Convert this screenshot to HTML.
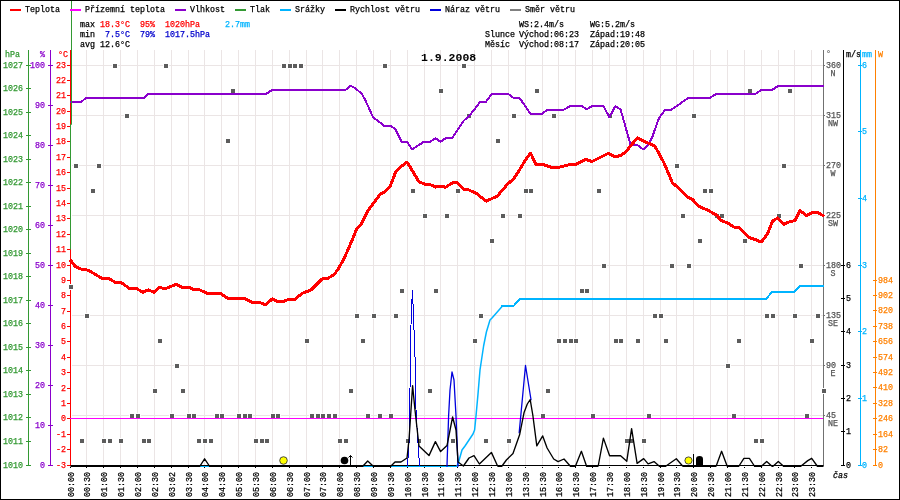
<!DOCTYPE html>
<html><head><meta charset="utf-8"><style>
html,body{margin:0;padding:0;background:#fff;width:900px;height:500px;overflow:hidden}
svg{display:block;will-change:transform}
text{font-family:"Liberation Mono",monospace;white-space:pre}
</style></head><body>
<svg width="900" height="500" viewBox="0 0 900 500">
<rect x="0" y="0" width="900" height="500" fill="#fff"/>
<rect x="86" y="50" width="1" height="415" fill="#ebe5e5"/>
<rect x="103" y="50" width="1" height="415" fill="#ebe5e5"/>
<rect x="120" y="50" width="1" height="415" fill="#ebe5e5"/>
<rect x="137" y="50" width="1" height="415" fill="#ebe5e5"/>
<rect x="154" y="50" width="1" height="415" fill="#ebe5e5"/>
<rect x="171" y="50" width="1" height="415" fill="#ebe5e5"/>
<rect x="188" y="50" width="1" height="415" fill="#ebe5e5"/>
<rect x="204" y="50" width="1" height="415" fill="#ebe5e5"/>
<rect x="221" y="50" width="1" height="415" fill="#ebe5e5"/>
<rect x="238" y="50" width="1" height="415" fill="#ebe5e5"/>
<rect x="255" y="50" width="1" height="415" fill="#ebe5e5"/>
<rect x="272" y="50" width="1" height="415" fill="#ebe5e5"/>
<rect x="289" y="50" width="1" height="415" fill="#ebe5e5"/>
<rect x="306" y="50" width="1" height="415" fill="#ebe5e5"/>
<rect x="322" y="50" width="1" height="415" fill="#ebe5e5"/>
<rect x="339" y="50" width="1" height="415" fill="#ebe5e5"/>
<rect x="356" y="50" width="1" height="415" fill="#ebe5e5"/>
<rect x="373" y="50" width="1" height="415" fill="#ebe5e5"/>
<rect x="390" y="50" width="1" height="415" fill="#ebe5e5"/>
<rect x="407" y="50" width="1" height="415" fill="#ebe5e5"/>
<rect x="424" y="50" width="1" height="415" fill="#ebe5e5"/>
<rect x="440" y="50" width="1" height="415" fill="#ebe5e5"/>
<rect x="457" y="50" width="1" height="415" fill="#ebe5e5"/>
<rect x="474" y="50" width="1" height="415" fill="#ebe5e5"/>
<rect x="491" y="50" width="1" height="415" fill="#ebe5e5"/>
<rect x="508" y="50" width="1" height="415" fill="#ebe5e5"/>
<rect x="525" y="50" width="1" height="415" fill="#ebe5e5"/>
<rect x="542" y="50" width="1" height="415" fill="#ebe5e5"/>
<rect x="558" y="50" width="1" height="415" fill="#ebe5e5"/>
<rect x="575" y="50" width="1" height="415" fill="#ebe5e5"/>
<rect x="592" y="50" width="1" height="415" fill="#ebe5e5"/>
<rect x="609" y="50" width="1" height="415" fill="#ebe5e5"/>
<rect x="626" y="50" width="1" height="415" fill="#ebe5e5"/>
<rect x="643" y="50" width="1" height="415" fill="#ebe5e5"/>
<rect x="660" y="50" width="1" height="415" fill="#ebe5e5"/>
<rect x="676" y="50" width="1" height="415" fill="#ebe5e5"/>
<rect x="693" y="50" width="1" height="415" fill="#ebe5e5"/>
<rect x="710" y="50" width="1" height="415" fill="#ebe5e5"/>
<rect x="727" y="50" width="1" height="415" fill="#ebe5e5"/>
<rect x="744" y="50" width="1" height="415" fill="#ebe5e5"/>
<rect x="761" y="50" width="1" height="415" fill="#ebe5e5"/>
<rect x="778" y="50" width="1" height="415" fill="#ebe5e5"/>
<rect x="794" y="50" width="1" height="415" fill="#ebe5e5"/>
<rect x="811" y="50" width="1" height="415" fill="#ebe5e5"/>
<rect x="72" y="65" width="751" height="1" fill="#ebe5e5"/>
<rect x="72" y="115" width="751" height="1" fill="#ebe5e5"/>
<rect x="72" y="165" width="751" height="1" fill="#ebe5e5"/>
<rect x="72" y="215" width="751" height="1" fill="#ebe5e5"/>
<rect x="72" y="265" width="751" height="1" fill="#ebe5e5"/>
<rect x="72" y="315" width="751" height="1" fill="#ebe5e5"/>
<rect x="72" y="365" width="751" height="1" fill="#ebe5e5"/>
<rect x="72" y="415" width="751" height="1" fill="#ebe5e5"/>
<rect x="70" y="467" width="1" height="1" fill="#000"/>
<rect x="86" y="467" width="1" height="1" fill="#000"/>
<rect x="103" y="467" width="1" height="1" fill="#000"/>
<rect x="120" y="467" width="1" height="1" fill="#000"/>
<rect x="137" y="467" width="1" height="1" fill="#000"/>
<rect x="154" y="467" width="1" height="1" fill="#000"/>
<rect x="171" y="467" width="1" height="1" fill="#000"/>
<rect x="188" y="467" width="1" height="1" fill="#000"/>
<rect x="204" y="467" width="1" height="1" fill="#000"/>
<rect x="221" y="467" width="1" height="1" fill="#000"/>
<rect x="238" y="467" width="1" height="1" fill="#000"/>
<rect x="255" y="467" width="1" height="1" fill="#000"/>
<rect x="272" y="467" width="1" height="1" fill="#000"/>
<rect x="289" y="467" width="1" height="1" fill="#000"/>
<rect x="306" y="467" width="1" height="1" fill="#000"/>
<rect x="322" y="467" width="1" height="1" fill="#000"/>
<rect x="339" y="467" width="1" height="1" fill="#000"/>
<rect x="356" y="467" width="1" height="1" fill="#000"/>
<rect x="373" y="467" width="1" height="1" fill="#000"/>
<rect x="390" y="467" width="1" height="1" fill="#000"/>
<rect x="407" y="467" width="1" height="1" fill="#000"/>
<rect x="424" y="467" width="1" height="1" fill="#000"/>
<rect x="440" y="467" width="1" height="1" fill="#000"/>
<rect x="457" y="467" width="1" height="1" fill="#000"/>
<rect x="474" y="467" width="1" height="1" fill="#000"/>
<rect x="491" y="467" width="1" height="1" fill="#000"/>
<rect x="508" y="467" width="1" height="1" fill="#000"/>
<rect x="525" y="467" width="1" height="1" fill="#000"/>
<rect x="542" y="467" width="1" height="1" fill="#000"/>
<rect x="558" y="467" width="1" height="1" fill="#000"/>
<rect x="575" y="467" width="1" height="1" fill="#000"/>
<rect x="592" y="467" width="1" height="1" fill="#000"/>
<rect x="609" y="467" width="1" height="1" fill="#000"/>
<rect x="626" y="467" width="1" height="1" fill="#000"/>
<rect x="643" y="467" width="1" height="1" fill="#000"/>
<rect x="660" y="467" width="1" height="1" fill="#000"/>
<rect x="676" y="467" width="1" height="1" fill="#000"/>
<rect x="693" y="467" width="1" height="1" fill="#000"/>
<rect x="710" y="467" width="1" height="1" fill="#000"/>
<rect x="727" y="467" width="1" height="1" fill="#000"/>
<rect x="744" y="467" width="1" height="1" fill="#000"/>
<rect x="761" y="467" width="1" height="1" fill="#000"/>
<rect x="778" y="467" width="1" height="1" fill="#000"/>
<rect x="794" y="467" width="1" height="1" fill="#000"/>
<rect x="811" y="467" width="1" height="1" fill="#000"/>
<rect x="28" y="50" width="1" height="416" fill="#339933"/>
<text x="5" y="57" font-size="8.33" font-weight="normal" fill="#339933" stroke="#339933" stroke-width="0.25" text-anchor="start" >hPa</text>
<rect x="26" y="465" width="5" height="1" fill="#339933"/>
<text x="3" y="468" font-size="8.33" font-weight="normal" fill="#339933" stroke="#339933" stroke-width="0.25" text-anchor="start" >1010</text>
<rect x="26" y="441" width="5" height="1" fill="#339933"/>
<text x="3" y="444" font-size="8.33" font-weight="normal" fill="#339933" stroke="#339933" stroke-width="0.25" text-anchor="start" >1011</text>
<rect x="26" y="417" width="5" height="1" fill="#339933"/>
<text x="3" y="420" font-size="8.33" font-weight="normal" fill="#339933" stroke="#339933" stroke-width="0.25" text-anchor="start" >1012</text>
<rect x="26" y="394" width="5" height="1" fill="#339933"/>
<text x="3" y="397" font-size="8.33" font-weight="normal" fill="#339933" stroke="#339933" stroke-width="0.25" text-anchor="start" >1013</text>
<rect x="26" y="370" width="5" height="1" fill="#339933"/>
<text x="3" y="373" font-size="8.33" font-weight="normal" fill="#339933" stroke="#339933" stroke-width="0.25" text-anchor="start" >1014</text>
<rect x="26" y="347" width="5" height="1" fill="#339933"/>
<text x="3" y="350" font-size="8.33" font-weight="normal" fill="#339933" stroke="#339933" stroke-width="0.25" text-anchor="start" >1015</text>
<rect x="26" y="323" width="5" height="1" fill="#339933"/>
<text x="3" y="326" font-size="8.33" font-weight="normal" fill="#339933" stroke="#339933" stroke-width="0.25" text-anchor="start" >1016</text>
<rect x="26" y="300" width="5" height="1" fill="#339933"/>
<text x="3" y="303" font-size="8.33" font-weight="normal" fill="#339933" stroke="#339933" stroke-width="0.25" text-anchor="start" >1017</text>
<rect x="26" y="276" width="5" height="1" fill="#339933"/>
<text x="3" y="279" font-size="8.33" font-weight="normal" fill="#339933" stroke="#339933" stroke-width="0.25" text-anchor="start" >1018</text>
<rect x="26" y="253" width="5" height="1" fill="#339933"/>
<text x="3" y="256" font-size="8.33" font-weight="normal" fill="#339933" stroke="#339933" stroke-width="0.25" text-anchor="start" >1019</text>
<rect x="26" y="229" width="5" height="1" fill="#339933"/>
<text x="3" y="232" font-size="8.33" font-weight="normal" fill="#339933" stroke="#339933" stroke-width="0.25" text-anchor="start" >1020</text>
<rect x="26" y="206" width="5" height="1" fill="#339933"/>
<text x="3" y="209" font-size="8.33" font-weight="normal" fill="#339933" stroke="#339933" stroke-width="0.25" text-anchor="start" >1021</text>
<rect x="26" y="182" width="5" height="1" fill="#339933"/>
<text x="3" y="185" font-size="8.33" font-weight="normal" fill="#339933" stroke="#339933" stroke-width="0.25" text-anchor="start" >1022</text>
<rect x="26" y="159" width="5" height="1" fill="#339933"/>
<text x="3" y="162" font-size="8.33" font-weight="normal" fill="#339933" stroke="#339933" stroke-width="0.25" text-anchor="start" >1023</text>
<rect x="26" y="135" width="5" height="1" fill="#339933"/>
<text x="3" y="138" font-size="8.33" font-weight="normal" fill="#339933" stroke="#339933" stroke-width="0.25" text-anchor="start" >1024</text>
<rect x="26" y="112" width="5" height="1" fill="#339933"/>
<text x="3" y="115" font-size="8.33" font-weight="normal" fill="#339933" stroke="#339933" stroke-width="0.25" text-anchor="start" >1025</text>
<rect x="26" y="88" width="5" height="1" fill="#339933"/>
<text x="3" y="91" font-size="8.33" font-weight="normal" fill="#339933" stroke="#339933" stroke-width="0.25" text-anchor="start" >1026</text>
<rect x="26" y="65" width="5" height="1" fill="#339933"/>
<text x="3" y="68" font-size="8.33" font-weight="normal" fill="#339933" stroke="#339933" stroke-width="0.25" text-anchor="start" >1027</text>
<rect x="50" y="50" width="1" height="416" fill="#8a00cc"/>
<text x="40" y="57" font-size="8.33" font-weight="normal" fill="#8a00cc" stroke="#8a00cc" stroke-width="0.25" text-anchor="start" >%</text>
<rect x="48" y="465" width="5" height="1" fill="#8a00cc"/>
<text x="45" y="468" font-size="8.33" font-weight="normal" fill="#8a00cc" stroke="#8a00cc" stroke-width="0.25" text-anchor="end" >0</text>
<rect x="48" y="425" width="5" height="1" fill="#8a00cc"/>
<text x="45" y="428" font-size="8.33" font-weight="normal" fill="#8a00cc" stroke="#8a00cc" stroke-width="0.25" text-anchor="end" >10</text>
<rect x="48" y="385" width="5" height="1" fill="#8a00cc"/>
<text x="45" y="388" font-size="8.33" font-weight="normal" fill="#8a00cc" stroke="#8a00cc" stroke-width="0.25" text-anchor="end" >20</text>
<rect x="48" y="345" width="5" height="1" fill="#8a00cc"/>
<text x="45" y="348" font-size="8.33" font-weight="normal" fill="#8a00cc" stroke="#8a00cc" stroke-width="0.25" text-anchor="end" >30</text>
<rect x="48" y="305" width="5" height="1" fill="#8a00cc"/>
<text x="45" y="308" font-size="8.33" font-weight="normal" fill="#8a00cc" stroke="#8a00cc" stroke-width="0.25" text-anchor="end" >40</text>
<rect x="48" y="265" width="5" height="1" fill="#8a00cc"/>
<text x="45" y="268" font-size="8.33" font-weight="normal" fill="#8a00cc" stroke="#8a00cc" stroke-width="0.25" text-anchor="end" >50</text>
<rect x="48" y="225" width="5" height="1" fill="#8a00cc"/>
<text x="45" y="228" font-size="8.33" font-weight="normal" fill="#8a00cc" stroke="#8a00cc" stroke-width="0.25" text-anchor="end" >60</text>
<rect x="48" y="185" width="5" height="1" fill="#8a00cc"/>
<text x="45" y="188" font-size="8.33" font-weight="normal" fill="#8a00cc" stroke="#8a00cc" stroke-width="0.25" text-anchor="end" >70</text>
<rect x="48" y="145" width="5" height="1" fill="#8a00cc"/>
<text x="45" y="148" font-size="8.33" font-weight="normal" fill="#8a00cc" stroke="#8a00cc" stroke-width="0.25" text-anchor="end" >80</text>
<rect x="48" y="105" width="5" height="1" fill="#8a00cc"/>
<text x="45" y="108" font-size="8.33" font-weight="normal" fill="#8a00cc" stroke="#8a00cc" stroke-width="0.25" text-anchor="end" >90</text>
<rect x="48" y="65" width="5" height="1" fill="#8a00cc"/>
<text x="45" y="68" font-size="8.33" font-weight="normal" fill="#8a00cc" stroke="#8a00cc" stroke-width="0.25" text-anchor="end" >100</text>
<rect x="70" y="50" width="1" height="416" fill="#ff0000"/>
<text x="58" y="57" font-size="8.33" font-weight="normal" fill="#ff0000" stroke="#ff0000" stroke-width="0.25" text-anchor="start" >°C</text>
<rect x="67" y="465" width="4" height="1" fill="#ff0000"/>
<text x="66" y="468" font-size="8.33" font-weight="normal" fill="#ff0000" stroke="#ff0000" stroke-width="0.25" text-anchor="end" >-3</text>
<rect x="67" y="449" width="4" height="1" fill="#ff0000"/>
<text x="66" y="452" font-size="8.33" font-weight="normal" fill="#ff0000" stroke="#ff0000" stroke-width="0.25" text-anchor="end" >-2</text>
<rect x="67" y="434" width="4" height="1" fill="#ff0000"/>
<text x="66" y="437" font-size="8.33" font-weight="normal" fill="#ff0000" stroke="#ff0000" stroke-width="0.25" text-anchor="end" >-1</text>
<rect x="67" y="418" width="4" height="1" fill="#ff0000"/>
<text x="66" y="421" font-size="8.33" font-weight="normal" fill="#ff0000" stroke="#ff0000" stroke-width="0.25" text-anchor="end" >0</text>
<rect x="67" y="403" width="4" height="1" fill="#ff0000"/>
<text x="66" y="406" font-size="8.33" font-weight="normal" fill="#ff0000" stroke="#ff0000" stroke-width="0.25" text-anchor="end" >1</text>
<rect x="67" y="388" width="4" height="1" fill="#ff0000"/>
<text x="66" y="391" font-size="8.33" font-weight="normal" fill="#ff0000" stroke="#ff0000" stroke-width="0.25" text-anchor="end" >2</text>
<rect x="67" y="372" width="4" height="1" fill="#ff0000"/>
<text x="66" y="375" font-size="8.33" font-weight="normal" fill="#ff0000" stroke="#ff0000" stroke-width="0.25" text-anchor="end" >3</text>
<rect x="67" y="357" width="4" height="1" fill="#ff0000"/>
<text x="66" y="360" font-size="8.33" font-weight="normal" fill="#ff0000" stroke="#ff0000" stroke-width="0.25" text-anchor="end" >4</text>
<rect x="67" y="341" width="4" height="1" fill="#ff0000"/>
<text x="66" y="344" font-size="8.33" font-weight="normal" fill="#ff0000" stroke="#ff0000" stroke-width="0.25" text-anchor="end" >5</text>
<rect x="67" y="326" width="4" height="1" fill="#ff0000"/>
<text x="66" y="329" font-size="8.33" font-weight="normal" fill="#ff0000" stroke="#ff0000" stroke-width="0.25" text-anchor="end" >6</text>
<rect x="67" y="311" width="4" height="1" fill="#ff0000"/>
<text x="66" y="314" font-size="8.33" font-weight="normal" fill="#ff0000" stroke="#ff0000" stroke-width="0.25" text-anchor="end" >7</text>
<rect x="67" y="295" width="4" height="1" fill="#ff0000"/>
<text x="66" y="298" font-size="8.33" font-weight="normal" fill="#ff0000" stroke="#ff0000" stroke-width="0.25" text-anchor="end" >8</text>
<rect x="67" y="280" width="4" height="1" fill="#ff0000"/>
<text x="66" y="283" font-size="8.33" font-weight="normal" fill="#ff0000" stroke="#ff0000" stroke-width="0.25" text-anchor="end" >9</text>
<rect x="67" y="265" width="4" height="1" fill="#ff0000"/>
<text x="66" y="268" font-size="8.33" font-weight="normal" fill="#ff0000" stroke="#ff0000" stroke-width="0.25" text-anchor="end" >10</text>
<rect x="67" y="249" width="4" height="1" fill="#ff0000"/>
<text x="66" y="252" font-size="8.33" font-weight="normal" fill="#ff0000" stroke="#ff0000" stroke-width="0.25" text-anchor="end" >11</text>
<rect x="67" y="234" width="4" height="1" fill="#ff0000"/>
<text x="66" y="237" font-size="8.33" font-weight="normal" fill="#ff0000" stroke="#ff0000" stroke-width="0.25" text-anchor="end" >12</text>
<rect x="67" y="218" width="4" height="1" fill="#ff0000"/>
<text x="66" y="221" font-size="8.33" font-weight="normal" fill="#ff0000" stroke="#ff0000" stroke-width="0.25" text-anchor="end" >13</text>
<rect x="67" y="203" width="4" height="1" fill="#ff0000"/>
<text x="66" y="206" font-size="8.33" font-weight="normal" fill="#ff0000" stroke="#ff0000" stroke-width="0.25" text-anchor="end" >14</text>
<rect x="67" y="188" width="4" height="1" fill="#ff0000"/>
<text x="66" y="191" font-size="8.33" font-weight="normal" fill="#ff0000" stroke="#ff0000" stroke-width="0.25" text-anchor="end" >15</text>
<rect x="67" y="172" width="4" height="1" fill="#ff0000"/>
<text x="66" y="175" font-size="8.33" font-weight="normal" fill="#ff0000" stroke="#ff0000" stroke-width="0.25" text-anchor="end" >16</text>
<rect x="67" y="157" width="4" height="1" fill="#ff0000"/>
<text x="66" y="160" font-size="8.33" font-weight="normal" fill="#ff0000" stroke="#ff0000" stroke-width="0.25" text-anchor="end" >17</text>
<rect x="67" y="141" width="4" height="1" fill="#ff0000"/>
<text x="66" y="144" font-size="8.33" font-weight="normal" fill="#ff0000" stroke="#ff0000" stroke-width="0.25" text-anchor="end" >18</text>
<rect x="67" y="126" width="4" height="1" fill="#ff0000"/>
<text x="66" y="129" font-size="8.33" font-weight="normal" fill="#ff0000" stroke="#ff0000" stroke-width="0.25" text-anchor="end" >19</text>
<rect x="67" y="111" width="4" height="1" fill="#ff0000"/>
<text x="66" y="114" font-size="8.33" font-weight="normal" fill="#ff0000" stroke="#ff0000" stroke-width="0.25" text-anchor="end" >20</text>
<rect x="67" y="95" width="4" height="1" fill="#ff0000"/>
<text x="66" y="98" font-size="8.33" font-weight="normal" fill="#ff0000" stroke="#ff0000" stroke-width="0.25" text-anchor="end" >21</text>
<rect x="67" y="80" width="4" height="1" fill="#ff0000"/>
<text x="66" y="83" font-size="8.33" font-weight="normal" fill="#ff0000" stroke="#ff0000" stroke-width="0.25" text-anchor="end" >22</text>
<rect x="67" y="65" width="4" height="1" fill="#ff0000"/>
<text x="66" y="68" font-size="8.33" font-weight="normal" fill="#ff0000" stroke="#ff0000" stroke-width="0.25" text-anchor="end" >23</text>
<rect x="823" y="50" width="1" height="416" fill="#707070"/>
<text x="826" y="56" font-size="8.33" font-weight="normal" fill="#707070" stroke="#707070" stroke-width="0.25" text-anchor="start" >°</text>
<rect x="823" y="65" width="2" height="1" fill="#707070"/>
<text x="826" y="68" font-size="8.33" font-weight="normal" fill="#555" stroke="#555" stroke-width="0.25" text-anchor="start" >360</text>
<text x="833" y="76" font-size="8.33" font-weight="normal" fill="#555" stroke="#555" stroke-width="0.25" text-anchor="middle" >N</text>
<rect x="823" y="115" width="2" height="1" fill="#707070"/>
<text x="826" y="118" font-size="8.33" font-weight="normal" fill="#555" stroke="#555" stroke-width="0.25" text-anchor="start" >315</text>
<text x="833" y="126" font-size="8.33" font-weight="normal" fill="#555" stroke="#555" stroke-width="0.25" text-anchor="middle" >NW</text>
<rect x="823" y="165" width="2" height="1" fill="#707070"/>
<text x="826" y="168" font-size="8.33" font-weight="normal" fill="#555" stroke="#555" stroke-width="0.25" text-anchor="start" >270</text>
<text x="833" y="176" font-size="8.33" font-weight="normal" fill="#555" stroke="#555" stroke-width="0.25" text-anchor="middle" >W</text>
<rect x="823" y="215" width="2" height="1" fill="#707070"/>
<text x="826" y="218" font-size="8.33" font-weight="normal" fill="#555" stroke="#555" stroke-width="0.25" text-anchor="start" >225</text>
<text x="833" y="226" font-size="8.33" font-weight="normal" fill="#555" stroke="#555" stroke-width="0.25" text-anchor="middle" >SW</text>
<rect x="823" y="265" width="2" height="1" fill="#707070"/>
<text x="826" y="268" font-size="8.33" font-weight="normal" fill="#555" stroke="#555" stroke-width="0.25" text-anchor="start" >180</text>
<text x="833" y="276" font-size="8.33" font-weight="normal" fill="#555" stroke="#555" stroke-width="0.25" text-anchor="middle" >S</text>
<rect x="823" y="315" width="2" height="1" fill="#707070"/>
<text x="826" y="318" font-size="8.33" font-weight="normal" fill="#555" stroke="#555" stroke-width="0.25" text-anchor="start" >135</text>
<text x="833" y="326" font-size="8.33" font-weight="normal" fill="#555" stroke="#555" stroke-width="0.25" text-anchor="middle" >SE</text>
<rect x="823" y="365" width="2" height="1" fill="#707070"/>
<text x="826" y="368" font-size="8.33" font-weight="normal" fill="#555" stroke="#555" stroke-width="0.25" text-anchor="start" >90</text>
<text x="833" y="376" font-size="8.33" font-weight="normal" fill="#555" stroke="#555" stroke-width="0.25" text-anchor="middle" >E</text>
<rect x="823" y="415" width="2" height="1" fill="#707070"/>
<text x="826" y="418" font-size="8.33" font-weight="normal" fill="#555" stroke="#555" stroke-width="0.25" text-anchor="start" >45</text>
<text x="833" y="426" font-size="8.33" font-weight="normal" fill="#555" stroke="#555" stroke-width="0.25" text-anchor="middle" >NE</text>
<rect x="843" y="50" width="1" height="416" fill="#000"/>
<text x="846" y="57" font-size="8.33" font-weight="normal" fill="#000" stroke="#000" stroke-width="0.25" text-anchor="start" >m/s</text>
<rect x="841" y="465" width="4" height="1" fill="#000"/>
<text x="846" y="468" font-size="8.33" font-weight="normal" fill="#000" stroke="#000" stroke-width="0.25" text-anchor="start" >0</text>
<rect x="841" y="431" width="4" height="1" fill="#000"/>
<text x="846" y="434" font-size="8.33" font-weight="normal" fill="#000" stroke="#000" stroke-width="0.25" text-anchor="start" >1</text>
<rect x="841" y="398" width="4" height="1" fill="#000"/>
<text x="846" y="401" font-size="8.33" font-weight="normal" fill="#000" stroke="#000" stroke-width="0.25" text-anchor="start" >2</text>
<rect x="841" y="365" width="4" height="1" fill="#000"/>
<text x="846" y="368" font-size="8.33" font-weight="normal" fill="#000" stroke="#000" stroke-width="0.25" text-anchor="start" >3</text>
<rect x="841" y="331" width="4" height="1" fill="#000"/>
<text x="846" y="334" font-size="8.33" font-weight="normal" fill="#000" stroke="#000" stroke-width="0.25" text-anchor="start" >4</text>
<rect x="841" y="298" width="4" height="1" fill="#000"/>
<text x="846" y="301" font-size="8.33" font-weight="normal" fill="#000" stroke="#000" stroke-width="0.25" text-anchor="start" >5</text>
<rect x="841" y="265" width="4" height="1" fill="#000"/>
<text x="846" y="268" font-size="8.33" font-weight="normal" fill="#000" stroke="#000" stroke-width="0.25" text-anchor="start" >6</text>
<rect x="860" y="50" width="1" height="416" fill="#00b4ff"/>
<text x="862" y="57" font-size="8.33" font-weight="normal" fill="#00b4ff" stroke="#00b4ff" stroke-width="0.25" text-anchor="start" >mm</text>
<rect x="858" y="465" width="4" height="1" fill="#00b4ff"/>
<text x="862" y="468" font-size="8.33" font-weight="normal" fill="#00b4ff" stroke="#00b4ff" stroke-width="0.25" text-anchor="start" >0</text>
<rect x="858" y="398" width="4" height="1" fill="#00b4ff"/>
<text x="862" y="401" font-size="8.33" font-weight="normal" fill="#00b4ff" stroke="#00b4ff" stroke-width="0.25" text-anchor="start" >1</text>
<rect x="858" y="331" width="4" height="1" fill="#00b4ff"/>
<text x="862" y="334" font-size="8.33" font-weight="normal" fill="#00b4ff" stroke="#00b4ff" stroke-width="0.25" text-anchor="start" >2</text>
<rect x="858" y="265" width="4" height="1" fill="#00b4ff"/>
<text x="862" y="268" font-size="8.33" font-weight="normal" fill="#00b4ff" stroke="#00b4ff" stroke-width="0.25" text-anchor="start" >3</text>
<rect x="858" y="198" width="4" height="1" fill="#00b4ff"/>
<text x="862" y="201" font-size="8.33" font-weight="normal" fill="#00b4ff" stroke="#00b4ff" stroke-width="0.25" text-anchor="start" >4</text>
<rect x="858" y="131" width="4" height="1" fill="#00b4ff"/>
<text x="862" y="134" font-size="8.33" font-weight="normal" fill="#00b4ff" stroke="#00b4ff" stroke-width="0.25" text-anchor="start" >5</text>
<rect x="858" y="65" width="4" height="1" fill="#00b4ff"/>
<text x="862" y="68" font-size="8.33" font-weight="normal" fill="#00b4ff" stroke="#00b4ff" stroke-width="0.25" text-anchor="start" >6</text>
<rect x="875" y="50" width="1" height="416" fill="#ff8000"/>
<text x="878" y="57" font-size="8.33" font-weight="normal" fill="#ff8000" stroke="#ff8000" stroke-width="0.25" text-anchor="start" >W</text>
<rect x="873" y="465" width="4" height="1" fill="#ff8000"/>
<text x="878" y="468" font-size="8.33" font-weight="normal" fill="#ff8000" stroke="#ff8000" stroke-width="0.25" text-anchor="start" >0</text>
<rect x="873" y="449" width="4" height="1" fill="#ff8000"/>
<text x="878" y="452" font-size="8.33" font-weight="normal" fill="#ff8000" stroke="#ff8000" stroke-width="0.25" text-anchor="start" >82</text>
<rect x="873" y="434" width="4" height="1" fill="#ff8000"/>
<text x="878" y="437" font-size="8.33" font-weight="normal" fill="#ff8000" stroke="#ff8000" stroke-width="0.25" text-anchor="start" >164</text>
<rect x="873" y="418" width="4" height="1" fill="#ff8000"/>
<text x="878" y="421" font-size="8.33" font-weight="normal" fill="#ff8000" stroke="#ff8000" stroke-width="0.25" text-anchor="start" >246</text>
<rect x="873" y="403" width="4" height="1" fill="#ff8000"/>
<text x="878" y="406" font-size="8.33" font-weight="normal" fill="#ff8000" stroke="#ff8000" stroke-width="0.25" text-anchor="start" >328</text>
<rect x="873" y="387" width="4" height="1" fill="#ff8000"/>
<text x="878" y="390" font-size="8.33" font-weight="normal" fill="#ff8000" stroke="#ff8000" stroke-width="0.25" text-anchor="start" >410</text>
<rect x="873" y="372" width="4" height="1" fill="#ff8000"/>
<text x="878" y="375" font-size="8.33" font-weight="normal" fill="#ff8000" stroke="#ff8000" stroke-width="0.25" text-anchor="start" >492</text>
<rect x="873" y="357" width="4" height="1" fill="#ff8000"/>
<text x="878" y="360" font-size="8.33" font-weight="normal" fill="#ff8000" stroke="#ff8000" stroke-width="0.25" text-anchor="start" >574</text>
<rect x="873" y="341" width="4" height="1" fill="#ff8000"/>
<text x="878" y="344" font-size="8.33" font-weight="normal" fill="#ff8000" stroke="#ff8000" stroke-width="0.25" text-anchor="start" >656</text>
<rect x="873" y="326" width="4" height="1" fill="#ff8000"/>
<text x="878" y="329" font-size="8.33" font-weight="normal" fill="#ff8000" stroke="#ff8000" stroke-width="0.25" text-anchor="start" >738</text>
<rect x="873" y="310" width="4" height="1" fill="#ff8000"/>
<text x="878" y="313" font-size="8.33" font-weight="normal" fill="#ff8000" stroke="#ff8000" stroke-width="0.25" text-anchor="start" >820</text>
<rect x="873" y="295" width="4" height="1" fill="#ff8000"/>
<text x="878" y="298" font-size="8.33" font-weight="normal" fill="#ff8000" stroke="#ff8000" stroke-width="0.25" text-anchor="start" >902</text>
<rect x="873" y="280" width="4" height="1" fill="#ff8000"/>
<text x="878" y="283" font-size="8.33" font-weight="normal" fill="#ff8000" stroke="#ff8000" stroke-width="0.25" text-anchor="start" >984</text>
<rect x="112" y="63" width="6" height="6" fill="#fff"/>
<rect x="163" y="63" width="6" height="6" fill="#fff"/>
<rect x="281" y="63" width="6" height="6" fill="#fff"/>
<rect x="287" y="63" width="6" height="6" fill="#fff"/>
<rect x="292" y="63" width="6" height="6" fill="#fff"/>
<rect x="298" y="63" width="6" height="6" fill="#fff"/>
<rect x="382" y="63" width="6" height="6" fill="#fff"/>
<rect x="461" y="63" width="6" height="6" fill="#fff"/>
<rect x="230" y="88" width="6" height="6" fill="#fff"/>
<rect x="438" y="88" width="6" height="6" fill="#fff"/>
<rect x="534" y="88" width="6" height="6" fill="#fff"/>
<rect x="747" y="88" width="6" height="6" fill="#fff"/>
<rect x="787" y="88" width="6" height="6" fill="#fff"/>
<rect x="124" y="113" width="6" height="6" fill="#fff"/>
<rect x="466" y="113" width="6" height="6" fill="#fff"/>
<rect x="511" y="113" width="6" height="6" fill="#fff"/>
<rect x="551" y="113" width="6" height="6" fill="#fff"/>
<rect x="607" y="113" width="6" height="6" fill="#fff"/>
<rect x="691" y="113" width="6" height="6" fill="#fff"/>
<rect x="225" y="138" width="6" height="6" fill="#fff"/>
<rect x="495" y="138" width="6" height="6" fill="#fff"/>
<rect x="73" y="163" width="6" height="6" fill="#fff"/>
<rect x="96" y="163" width="6" height="6" fill="#fff"/>
<rect x="674" y="163" width="6" height="6" fill="#fff"/>
<rect x="781" y="163" width="6" height="6" fill="#fff"/>
<rect x="90" y="188" width="6" height="6" fill="#fff"/>
<rect x="410" y="188" width="6" height="6" fill="#fff"/>
<rect x="455" y="188" width="6" height="6" fill="#fff"/>
<rect x="523" y="188" width="6" height="6" fill="#fff"/>
<rect x="528" y="188" width="6" height="6" fill="#fff"/>
<rect x="596" y="188" width="6" height="6" fill="#fff"/>
<rect x="702" y="188" width="6" height="6" fill="#fff"/>
<rect x="708" y="188" width="6" height="6" fill="#fff"/>
<rect x="422" y="213" width="6" height="6" fill="#fff"/>
<rect x="444" y="213" width="6" height="6" fill="#fff"/>
<rect x="500" y="213" width="6" height="6" fill="#fff"/>
<rect x="517" y="213" width="6" height="6" fill="#fff"/>
<rect x="680" y="213" width="6" height="6" fill="#fff"/>
<rect x="714" y="213" width="6" height="6" fill="#fff"/>
<rect x="719" y="213" width="6" height="6" fill="#fff"/>
<rect x="776" y="213" width="6" height="6" fill="#fff"/>
<rect x="489" y="238" width="6" height="6" fill="#fff"/>
<rect x="697" y="238" width="6" height="6" fill="#fff"/>
<rect x="742" y="238" width="6" height="6" fill="#fff"/>
<rect x="601" y="263" width="6" height="6" fill="#fff"/>
<rect x="669" y="263" width="6" height="6" fill="#fff"/>
<rect x="686" y="263" width="6" height="6" fill="#fff"/>
<rect x="798" y="263" width="6" height="6" fill="#fff"/>
<rect x="399" y="288" width="6" height="6" fill="#fff"/>
<rect x="433" y="288" width="6" height="6" fill="#fff"/>
<rect x="579" y="288" width="6" height="6" fill="#fff"/>
<rect x="584" y="288" width="6" height="6" fill="#fff"/>
<rect x="84" y="313" width="6" height="6" fill="#fff"/>
<rect x="354" y="313" width="6" height="6" fill="#fff"/>
<rect x="371" y="313" width="6" height="6" fill="#fff"/>
<rect x="393" y="313" width="6" height="6" fill="#fff"/>
<rect x="478" y="313" width="6" height="6" fill="#fff"/>
<rect x="652" y="313" width="6" height="6" fill="#fff"/>
<rect x="658" y="313" width="6" height="6" fill="#fff"/>
<rect x="764" y="313" width="6" height="6" fill="#fff"/>
<rect x="770" y="313" width="6" height="6" fill="#fff"/>
<rect x="792" y="313" width="6" height="6" fill="#fff"/>
<rect x="815" y="313" width="6" height="6" fill="#fff"/>
<rect x="157" y="338" width="6" height="6" fill="#fff"/>
<rect x="304" y="338" width="6" height="6" fill="#fff"/>
<rect x="360" y="338" width="6" height="6" fill="#fff"/>
<rect x="472" y="338" width="6" height="6" fill="#fff"/>
<rect x="556" y="338" width="6" height="6" fill="#fff"/>
<rect x="562" y="338" width="6" height="6" fill="#fff"/>
<rect x="568" y="338" width="6" height="6" fill="#fff"/>
<rect x="573" y="338" width="6" height="6" fill="#fff"/>
<rect x="613" y="338" width="6" height="6" fill="#fff"/>
<rect x="618" y="338" width="6" height="6" fill="#fff"/>
<rect x="635" y="338" width="6" height="6" fill="#fff"/>
<rect x="663" y="338" width="6" height="6" fill="#fff"/>
<rect x="736" y="338" width="6" height="6" fill="#fff"/>
<rect x="809" y="338" width="6" height="6" fill="#fff"/>
<rect x="174" y="363" width="6" height="6" fill="#fff"/>
<rect x="725" y="363" width="6" height="6" fill="#fff"/>
<rect x="152" y="388" width="6" height="6" fill="#fff"/>
<rect x="180" y="388" width="6" height="6" fill="#fff"/>
<rect x="348" y="388" width="6" height="6" fill="#fff"/>
<rect x="427" y="388" width="6" height="6" fill="#fff"/>
<rect x="545" y="388" width="6" height="6" fill="#fff"/>
<rect x="821" y="388" width="6" height="6" fill="#fff"/>
<rect x="129" y="413" width="6" height="6" fill="#fff"/>
<rect x="135" y="413" width="6" height="6" fill="#fff"/>
<rect x="169" y="413" width="6" height="6" fill="#fff"/>
<rect x="186" y="413" width="6" height="6" fill="#fff"/>
<rect x="191" y="413" width="6" height="6" fill="#fff"/>
<rect x="214" y="413" width="6" height="6" fill="#fff"/>
<rect x="219" y="413" width="6" height="6" fill="#fff"/>
<rect x="236" y="413" width="6" height="6" fill="#fff"/>
<rect x="242" y="413" width="6" height="6" fill="#fff"/>
<rect x="247" y="413" width="6" height="6" fill="#fff"/>
<rect x="270" y="413" width="6" height="6" fill="#fff"/>
<rect x="275" y="413" width="6" height="6" fill="#fff"/>
<rect x="309" y="413" width="6" height="6" fill="#fff"/>
<rect x="315" y="413" width="6" height="6" fill="#fff"/>
<rect x="320" y="413" width="6" height="6" fill="#fff"/>
<rect x="326" y="413" width="6" height="6" fill="#fff"/>
<rect x="332" y="413" width="6" height="6" fill="#fff"/>
<rect x="365" y="413" width="6" height="6" fill="#fff"/>
<rect x="377" y="413" width="6" height="6" fill="#fff"/>
<rect x="388" y="413" width="6" height="6" fill="#fff"/>
<rect x="540" y="413" width="6" height="6" fill="#fff"/>
<rect x="590" y="413" width="6" height="6" fill="#fff"/>
<rect x="646" y="413" width="6" height="6" fill="#fff"/>
<rect x="731" y="413" width="6" height="6" fill="#fff"/>
<rect x="804" y="413" width="6" height="6" fill="#fff"/>
<rect x="79" y="438" width="6" height="6" fill="#fff"/>
<rect x="101" y="438" width="6" height="6" fill="#fff"/>
<rect x="107" y="438" width="6" height="6" fill="#fff"/>
<rect x="118" y="438" width="6" height="6" fill="#fff"/>
<rect x="141" y="438" width="6" height="6" fill="#fff"/>
<rect x="146" y="438" width="6" height="6" fill="#fff"/>
<rect x="196" y="438" width="6" height="6" fill="#fff"/>
<rect x="202" y="438" width="6" height="6" fill="#fff"/>
<rect x="208" y="438" width="6" height="6" fill="#fff"/>
<rect x="253" y="438" width="6" height="6" fill="#fff"/>
<rect x="259" y="438" width="6" height="6" fill="#fff"/>
<rect x="264" y="438" width="6" height="6" fill="#fff"/>
<rect x="337" y="438" width="6" height="6" fill="#fff"/>
<rect x="343" y="438" width="6" height="6" fill="#fff"/>
<rect x="405" y="438" width="6" height="6" fill="#fff"/>
<rect x="416" y="438" width="6" height="6" fill="#fff"/>
<rect x="450" y="438" width="6" height="6" fill="#fff"/>
<rect x="483" y="438" width="6" height="6" fill="#fff"/>
<rect x="506" y="438" width="6" height="6" fill="#fff"/>
<rect x="624" y="438" width="6" height="6" fill="#fff"/>
<rect x="628" y="438" width="6" height="6" fill="#fff"/>
<rect x="641" y="438" width="6" height="6" fill="#fff"/>
<rect x="753" y="438" width="6" height="6" fill="#fff"/>
<rect x="759" y="438" width="6" height="6" fill="#fff"/>
<rect x="68" y="284" width="6" height="6" fill="#fff"/>
<rect x="113" y="64" width="4" height="4" fill="#5c5c5c"/>
<rect x="164" y="64" width="4" height="4" fill="#5c5c5c"/>
<rect x="282" y="64" width="4" height="4" fill="#5c5c5c"/>
<rect x="288" y="64" width="4" height="4" fill="#5c5c5c"/>
<rect x="293" y="64" width="4" height="4" fill="#5c5c5c"/>
<rect x="299" y="64" width="4" height="4" fill="#5c5c5c"/>
<rect x="383" y="64" width="4" height="4" fill="#5c5c5c"/>
<rect x="462" y="64" width="4" height="4" fill="#5c5c5c"/>
<rect x="231" y="89" width="4" height="4" fill="#5c5c5c"/>
<rect x="439" y="89" width="4" height="4" fill="#5c5c5c"/>
<rect x="535" y="89" width="4" height="4" fill="#5c5c5c"/>
<rect x="748" y="89" width="4" height="4" fill="#5c5c5c"/>
<rect x="788" y="89" width="4" height="4" fill="#5c5c5c"/>
<rect x="125" y="114" width="4" height="4" fill="#5c5c5c"/>
<rect x="467" y="114" width="4" height="4" fill="#5c5c5c"/>
<rect x="512" y="114" width="4" height="4" fill="#5c5c5c"/>
<rect x="552" y="114" width="4" height="4" fill="#5c5c5c"/>
<rect x="608" y="114" width="4" height="4" fill="#5c5c5c"/>
<rect x="692" y="114" width="4" height="4" fill="#5c5c5c"/>
<rect x="226" y="139" width="4" height="4" fill="#5c5c5c"/>
<rect x="496" y="139" width="4" height="4" fill="#5c5c5c"/>
<rect x="74" y="164" width="4" height="4" fill="#5c5c5c"/>
<rect x="97" y="164" width="4" height="4" fill="#5c5c5c"/>
<rect x="675" y="164" width="4" height="4" fill="#5c5c5c"/>
<rect x="782" y="164" width="4" height="4" fill="#5c5c5c"/>
<rect x="91" y="189" width="4" height="4" fill="#5c5c5c"/>
<rect x="411" y="189" width="4" height="4" fill="#5c5c5c"/>
<rect x="456" y="189" width="4" height="4" fill="#5c5c5c"/>
<rect x="524" y="189" width="4" height="4" fill="#5c5c5c"/>
<rect x="529" y="189" width="4" height="4" fill="#5c5c5c"/>
<rect x="597" y="189" width="4" height="4" fill="#5c5c5c"/>
<rect x="703" y="189" width="4" height="4" fill="#5c5c5c"/>
<rect x="709" y="189" width="4" height="4" fill="#5c5c5c"/>
<rect x="423" y="214" width="4" height="4" fill="#5c5c5c"/>
<rect x="445" y="214" width="4" height="4" fill="#5c5c5c"/>
<rect x="501" y="214" width="4" height="4" fill="#5c5c5c"/>
<rect x="518" y="214" width="4" height="4" fill="#5c5c5c"/>
<rect x="681" y="214" width="4" height="4" fill="#5c5c5c"/>
<rect x="715" y="214" width="4" height="4" fill="#5c5c5c"/>
<rect x="720" y="214" width="4" height="4" fill="#5c5c5c"/>
<rect x="777" y="214" width="4" height="4" fill="#5c5c5c"/>
<rect x="490" y="239" width="4" height="4" fill="#5c5c5c"/>
<rect x="698" y="239" width="4" height="4" fill="#5c5c5c"/>
<rect x="743" y="239" width="4" height="4" fill="#5c5c5c"/>
<rect x="602" y="264" width="4" height="4" fill="#5c5c5c"/>
<rect x="670" y="264" width="4" height="4" fill="#5c5c5c"/>
<rect x="687" y="264" width="4" height="4" fill="#5c5c5c"/>
<rect x="799" y="264" width="4" height="4" fill="#5c5c5c"/>
<rect x="400" y="289" width="4" height="4" fill="#5c5c5c"/>
<rect x="434" y="289" width="4" height="4" fill="#5c5c5c"/>
<rect x="580" y="289" width="4" height="4" fill="#5c5c5c"/>
<rect x="585" y="289" width="4" height="4" fill="#5c5c5c"/>
<rect x="85" y="314" width="4" height="4" fill="#5c5c5c"/>
<rect x="355" y="314" width="4" height="4" fill="#5c5c5c"/>
<rect x="372" y="314" width="4" height="4" fill="#5c5c5c"/>
<rect x="394" y="314" width="4" height="4" fill="#5c5c5c"/>
<rect x="479" y="314" width="4" height="4" fill="#5c5c5c"/>
<rect x="653" y="314" width="4" height="4" fill="#5c5c5c"/>
<rect x="659" y="314" width="4" height="4" fill="#5c5c5c"/>
<rect x="765" y="314" width="4" height="4" fill="#5c5c5c"/>
<rect x="771" y="314" width="4" height="4" fill="#5c5c5c"/>
<rect x="793" y="314" width="4" height="4" fill="#5c5c5c"/>
<rect x="816" y="314" width="4" height="4" fill="#5c5c5c"/>
<rect x="158" y="339" width="4" height="4" fill="#5c5c5c"/>
<rect x="305" y="339" width="4" height="4" fill="#5c5c5c"/>
<rect x="361" y="339" width="4" height="4" fill="#5c5c5c"/>
<rect x="473" y="339" width="4" height="4" fill="#5c5c5c"/>
<rect x="557" y="339" width="4" height="4" fill="#5c5c5c"/>
<rect x="563" y="339" width="4" height="4" fill="#5c5c5c"/>
<rect x="569" y="339" width="4" height="4" fill="#5c5c5c"/>
<rect x="574" y="339" width="4" height="4" fill="#5c5c5c"/>
<rect x="614" y="339" width="4" height="4" fill="#5c5c5c"/>
<rect x="619" y="339" width="4" height="4" fill="#5c5c5c"/>
<rect x="636" y="339" width="4" height="4" fill="#5c5c5c"/>
<rect x="664" y="339" width="4" height="4" fill="#5c5c5c"/>
<rect x="737" y="339" width="4" height="4" fill="#5c5c5c"/>
<rect x="810" y="339" width="4" height="4" fill="#5c5c5c"/>
<rect x="175" y="364" width="4" height="4" fill="#5c5c5c"/>
<rect x="726" y="364" width="4" height="4" fill="#5c5c5c"/>
<rect x="153" y="389" width="4" height="4" fill="#5c5c5c"/>
<rect x="181" y="389" width="4" height="4" fill="#5c5c5c"/>
<rect x="349" y="389" width="4" height="4" fill="#5c5c5c"/>
<rect x="428" y="389" width="4" height="4" fill="#5c5c5c"/>
<rect x="546" y="389" width="4" height="4" fill="#5c5c5c"/>
<rect x="822" y="389" width="4" height="4" fill="#5c5c5c"/>
<rect x="130" y="414" width="4" height="4" fill="#5c5c5c"/>
<rect x="136" y="414" width="4" height="4" fill="#5c5c5c"/>
<rect x="170" y="414" width="4" height="4" fill="#5c5c5c"/>
<rect x="187" y="414" width="4" height="4" fill="#5c5c5c"/>
<rect x="192" y="414" width="4" height="4" fill="#5c5c5c"/>
<rect x="215" y="414" width="4" height="4" fill="#5c5c5c"/>
<rect x="220" y="414" width="4" height="4" fill="#5c5c5c"/>
<rect x="237" y="414" width="4" height="4" fill="#5c5c5c"/>
<rect x="243" y="414" width="4" height="4" fill="#5c5c5c"/>
<rect x="248" y="414" width="4" height="4" fill="#5c5c5c"/>
<rect x="271" y="414" width="4" height="4" fill="#5c5c5c"/>
<rect x="276" y="414" width="4" height="4" fill="#5c5c5c"/>
<rect x="310" y="414" width="4" height="4" fill="#5c5c5c"/>
<rect x="316" y="414" width="4" height="4" fill="#5c5c5c"/>
<rect x="321" y="414" width="4" height="4" fill="#5c5c5c"/>
<rect x="327" y="414" width="4" height="4" fill="#5c5c5c"/>
<rect x="333" y="414" width="4" height="4" fill="#5c5c5c"/>
<rect x="366" y="414" width="4" height="4" fill="#5c5c5c"/>
<rect x="378" y="414" width="4" height="4" fill="#5c5c5c"/>
<rect x="389" y="414" width="4" height="4" fill="#5c5c5c"/>
<rect x="541" y="414" width="4" height="4" fill="#5c5c5c"/>
<rect x="591" y="414" width="4" height="4" fill="#5c5c5c"/>
<rect x="647" y="414" width="4" height="4" fill="#5c5c5c"/>
<rect x="732" y="414" width="4" height="4" fill="#5c5c5c"/>
<rect x="805" y="414" width="4" height="4" fill="#5c5c5c"/>
<rect x="80" y="439" width="4" height="4" fill="#5c5c5c"/>
<rect x="102" y="439" width="4" height="4" fill="#5c5c5c"/>
<rect x="108" y="439" width="4" height="4" fill="#5c5c5c"/>
<rect x="119" y="439" width="4" height="4" fill="#5c5c5c"/>
<rect x="142" y="439" width="4" height="4" fill="#5c5c5c"/>
<rect x="147" y="439" width="4" height="4" fill="#5c5c5c"/>
<rect x="197" y="439" width="4" height="4" fill="#5c5c5c"/>
<rect x="203" y="439" width="4" height="4" fill="#5c5c5c"/>
<rect x="209" y="439" width="4" height="4" fill="#5c5c5c"/>
<rect x="254" y="439" width="4" height="4" fill="#5c5c5c"/>
<rect x="260" y="439" width="4" height="4" fill="#5c5c5c"/>
<rect x="265" y="439" width="4" height="4" fill="#5c5c5c"/>
<rect x="338" y="439" width="4" height="4" fill="#5c5c5c"/>
<rect x="344" y="439" width="4" height="4" fill="#5c5c5c"/>
<rect x="406" y="439" width="4" height="4" fill="#5c5c5c"/>
<rect x="417" y="439" width="4" height="4" fill="#5c5c5c"/>
<rect x="451" y="439" width="4" height="4" fill="#5c5c5c"/>
<rect x="484" y="439" width="4" height="4" fill="#5c5c5c"/>
<rect x="507" y="439" width="4" height="4" fill="#5c5c5c"/>
<rect x="625" y="439" width="4" height="4" fill="#5c5c5c"/>
<rect x="629" y="439" width="4" height="4" fill="#5c5c5c"/>
<rect x="642" y="439" width="4" height="4" fill="#5c5c5c"/>
<rect x="754" y="439" width="4" height="4" fill="#5c5c5c"/>
<rect x="760" y="439" width="4" height="4" fill="#5c5c5c"/>
<rect x="69" y="285" width="4" height="4" fill="#5c5c5c"/>
<rect x="70" y="418" width="753" height="1" fill="#ff00ff"/>
<polyline points="71.0,102.0 81.0,102.0 86.0,98.0 144.0,98.0 148.0,94.0 266.0,94.0 272.0,90.0 345.5,90.0 350.4,85.7 355.5,88.3 361.8,93.9 365.5,100.5 373.3,117.9 376.7,119.9 384.4,126.1 391.0,126.0 395.6,129.4 401.5,141.7 407.0,141.7 412.2,149.4 424.0,141.7 430.0,141.7 435.5,138.3 440.4,141.7 446.2,137.9 452.2,137.9 463.9,120.6 470.1,115.0 479.9,102.1 485.7,102.1 491.7,93.9 508.3,93.9 513.2,97.7 519.4,97.7 530.6,113.9 542.1,113.9 547.2,109.7 563.9,109.7 570.6,105.9 581.7,105.9 586.6,109.4 592.3,105.9 603.4,105.9 609.4,117.2 615.4,106.1 620.6,109.4 630.6,145.0 637.2,145.0 643.4,149.4 648.3,145.0 652.2,137.2 658.9,118.3 665.1,109.9 671.1,109.9 676.7,106.1 688.2,97.9 710.0,97.9 716.2,93.9 755.6,93.9 761.6,89.9 772.2,89.9 778.4,85.7 823.0,85.7" fill="none" stroke="#8a00cc" stroke-width="2" stroke-linejoin="round" stroke-linecap="square" shape-rendering="crispEdges"/>
<rect x="71" y="466" width="386" height="1" fill="#00b4ff"/>
<rect x="71" y="465" width="752" height="1" fill="#000"/>
<polyline points="457.0,466.0 458.6,462.0 462.0,450.0 465.0,446.0 473.0,434.0 474.6,430.0 476.0,416.0 478.0,394.0 480.0,370.0 483.6,346.0 486.4,332.0 490.0,320.0 492.0,318.0 499.0,310.0 502.4,306.0" fill="none" stroke="#00b4ff" stroke-width="1.5" stroke-linejoin="round" stroke-linecap="square" />
<polyline points="502.4,306.0 513.6,306.0 519.6,299.0 766.0,299.0 772.0,292.0 794.0,292.0 800.0,286.0 823.0,286.0" fill="none" stroke="#00b4ff" stroke-width="2" stroke-linejoin="round" stroke-linecap="square" shape-rendering="crispEdges"/>
<polyline points="407.5,465.5 409.5,436.0 410.5,342.0 411.5,308.0 412.5,291.0 412.5,304.0 413.5,304.0 413.5,330.0 414.5,330.0 414.5,357.0 415.5,357.0 415.5,400.0 417.5,436.0 419.5,465.5" fill="none" stroke="#0000dd" stroke-width="1" stroke-linejoin="round" stroke-linecap="square" shape-rendering="crispEdges"/>
<polyline points="447.0,466.0 448.6,416.0 450.0,390.0 452.0,372.0 454.0,380.0 456.0,416.0 457.4,450.0 458.0,466.0" fill="none" stroke="#0000dd" stroke-width="1.3" stroke-linejoin="round" stroke-linecap="square" />
<polyline points="519.2,432.6 525.5,365.5 531.0,399.6" fill="none" stroke="#0000dd" stroke-width="1.3" stroke-linejoin="round" stroke-linecap="square" />
<polyline points="71.0,466.0 200.0,466.0 204.6,458.8 209.4,466.0 363.0,466.0 367.7,461.0 373.0,466.0 391.0,466.0 395.0,462.0 401.0,462.0 407.0,458.0 409.0,440.0 412.6,385.6 415.0,410.0 419.0,446.0 429.0,455.6 435.4,441.6 440.6,451.6 447.0,445.6 452.6,417.0 456.0,430.0 458.0,462.0 463.4,466.0 469.0,458.0 474.0,455.6 479.4,464.0 484.6,459.0 491.4,452.4 497.6,466.0 502.0,466.0 506.4,460.0 513.0,453.5 519.6,434.8 524.0,412.8 527.3,404.0 530.2,399.6 532.8,415.0 536.8,445.8 542.7,435.9 547.1,448.0 553.7,459.0 558.1,461.6 564.0,459.0 570.2,466.0 575.5,466.0 581.4,451.3 586.5,466.0 598.2,466.0 603.4,438.1 609.6,455.7 620.6,455.7 626.8,461.2 631.6,428.6 637.1,463.4 643.7,458.6 648.1,463.9 654.0,461.6 659.1,466.0 666.0,466.0 676.3,458.8 682.6,466.0 716.2,466.0 721.6,451.3 727.1,466.0 739.0,466.0 743.9,458.3 749.4,458.3 754.4,466.0 761.7,466.0 766.7,461.4 771.7,466.0 773.3,466.0 778.3,461.4 783.3,466.0 801.1,466.0 807.8,460.6 811.7,458.3 817.2,466.0 823.0,466.0" fill="none" stroke="#000" stroke-width="1.35" stroke-linejoin="round" stroke-linecap="square" />
<rect x="71" y="465" width="129" height="2" fill="#000"/>
<rect x="209" y="465" width="154" height="2" fill="#000"/>
<rect x="373" y="465" width="18" height="2" fill="#000"/>
<rect x="498" y="465" width="4" height="2" fill="#000"/>
<rect x="570" y="465" width="6" height="2" fill="#000"/>
<rect x="586" y="465" width="12" height="2" fill="#000"/>
<rect x="659" y="465" width="7" height="2" fill="#000"/>
<rect x="683" y="465" width="33" height="2" fill="#000"/>
<rect x="727" y="465" width="12" height="2" fill="#000"/>
<rect x="754" y="465" width="8" height="2" fill="#000"/>
<rect x="772" y="465" width="1" height="2" fill="#000"/>
<rect x="783" y="465" width="18" height="2" fill="#000"/>
<rect x="817" y="465" width="6" height="2" fill="#000"/>
<polyline points="71.0,261.0 75.0,266.2 80.6,268.9 87.2,270.0 91.7,272.2 102.8,278.9 109.4,278.9 115.0,282.2 120.6,282.2 129.4,288.4 136.1,288.4 142.8,292.2 148.3,290.0 153.9,292.2 159.4,287.1 165.0,288.9 176.1,284.4 181.7,287.1 189.4,287.1 192.8,289.3 198.3,289.3 207.2,293.3 220.6,293.3 228.3,298.9 245.0,298.9 251.7,302.2 260.0,302.5 265.6,304.9 272.2,298.9 276.7,301.1 284.4,301.1 287.8,299.6 294.4,299.6 302.2,293.3 311.1,290.0 322.2,278.9 326.7,278.9 334.4,274.4 338.9,267.8 344.4,257.8 352.2,240.0 356.7,228.9 361.1,224.4 367.8,211.1 373.3,203.3 380.0,194.4 384.4,192.2 390.0,186.7 395.6,172.2 402.2,165.6 407.1,162.2 413.3,172.2 418.9,181.8 424.4,184.0 428.9,184.0 435.6,187.1 440.0,186.0 445.6,187.3 453.3,182.2 456.7,182.2 463.9,189.6 468.3,189.6 477.2,194.0 486.1,201.1 497.2,196.2 508.3,183.3 513.2,179.6 519.4,170.0 526.1,158.9 530.6,153.3 536.1,164.4 542.8,164.4 550.6,167.1 559.4,167.1 570.6,164.4 576.1,164.4 586.1,159.3 591.7,161.6 608.3,153.3 615.0,156.7 620.6,155.6 626.3,151.3 631.3,145.0 637.5,138.0 643.8,141.3 650.0,143.8 655.0,146.3 663.8,162.5 672.5,183.0 678.8,188.0 687.5,197.0 692.5,199.5 698.8,206.3 707.5,210.0 716.3,215.0 721.3,220.5 727.5,223.0 733.8,227.0 738.8,227.5 748.8,237.5 755.0,239.5 761.3,242.0 767.5,233.8 772.5,221.3 777.5,218.0 783.8,224.5 788.8,222.0 795.0,220.5 800.0,210.5 806.3,215.5 812.5,212.5 817.5,212.5 823.0,215.5" fill="none" stroke="#ff0000" stroke-width="3" stroke-linejoin="round" stroke-linecap="square" shape-rendering="crispEdges"/>
<polyline points="71.5,0 71.5,124.5 70.5,124.5 70.5,249.5" fill="none" stroke="#339933" stroke-width="1"/>
<circle cx="283.5" cy="460.5" r="3.8" fill="#ffff00" stroke="#223" stroke-width="0.8"/>
<circle cx="344.5" cy="460.5" r="3.8" fill="#000"/>
<path d="M350.5,465 V455.5 M348.5,457.5 L350.5,455.5 L352.5,457.5" stroke="#000" stroke-width="1" fill="none"/>
<circle cx="688.5" cy="460.5" r="3.6" fill="#ffff00" stroke="#223" stroke-width="0.8"/>
<rect x="693" y="454" width="1" height="14" fill="#000"/>
<path d="M696,465 V459 Q696,456 699.5,456 Q703,456 703,459 V465 Z" fill="#000"/>
<g transform="translate(73.50,497) rotate(-90)"><text x="0" y="0" font-size="8.33" fill="#000" stroke="#000" stroke-width="0.25">00:00</text></g>
<g transform="translate(90.36,497) rotate(-90)"><text x="0" y="0" font-size="8.33" fill="#000" stroke="#000" stroke-width="0.25">00:30</text></g>
<g transform="translate(107.22,497) rotate(-90)"><text x="0" y="0" font-size="8.33" fill="#000" stroke="#000" stroke-width="0.25">01:00</text></g>
<g transform="translate(124.08,497) rotate(-90)"><text x="0" y="0" font-size="8.33" fill="#000" stroke="#000" stroke-width="0.25">01:30</text></g>
<g transform="translate(140.94,497) rotate(-90)"><text x="0" y="0" font-size="8.33" fill="#000" stroke="#000" stroke-width="0.25">02:00</text></g>
<g transform="translate(157.80,497) rotate(-90)"><text x="0" y="0" font-size="8.33" fill="#000" stroke="#000" stroke-width="0.25">02:30</text></g>
<g transform="translate(174.66,497) rotate(-90)"><text x="0" y="0" font-size="8.33" fill="#000" stroke="#000" stroke-width="0.25">03:02</text></g>
<g transform="translate(191.52,497) rotate(-90)"><text x="0" y="0" font-size="8.33" fill="#000" stroke="#000" stroke-width="0.25">03:30</text></g>
<g transform="translate(208.38,497) rotate(-90)"><text x="0" y="0" font-size="8.33" fill="#000" stroke="#000" stroke-width="0.25">04:00</text></g>
<g transform="translate(225.24,497) rotate(-90)"><text x="0" y="0" font-size="8.33" fill="#000" stroke="#000" stroke-width="0.25">04:30</text></g>
<g transform="translate(242.10,497) rotate(-90)"><text x="0" y="0" font-size="8.33" fill="#000" stroke="#000" stroke-width="0.25">05:00</text></g>
<g transform="translate(258.96,497) rotate(-90)"><text x="0" y="0" font-size="8.33" fill="#000" stroke="#000" stroke-width="0.25">05:30</text></g>
<g transform="translate(275.82,497) rotate(-90)"><text x="0" y="0" font-size="8.33" fill="#000" stroke="#000" stroke-width="0.25">06:00</text></g>
<g transform="translate(292.68,497) rotate(-90)"><text x="0" y="0" font-size="8.33" fill="#000" stroke="#000" stroke-width="0.25">06:30</text></g>
<g transform="translate(309.54,497) rotate(-90)"><text x="0" y="0" font-size="8.33" fill="#000" stroke="#000" stroke-width="0.25">07:00</text></g>
<g transform="translate(326.40,497) rotate(-90)"><text x="0" y="0" font-size="8.33" fill="#000" stroke="#000" stroke-width="0.25">07:30</text></g>
<g transform="translate(343.26,497) rotate(-90)"><text x="0" y="0" font-size="8.33" fill="#000" stroke="#000" stroke-width="0.25">08:00</text></g>
<g transform="translate(360.12,497) rotate(-90)"><text x="0" y="0" font-size="8.33" fill="#000" stroke="#000" stroke-width="0.25">08:30</text></g>
<g transform="translate(376.98,497) rotate(-90)"><text x="0" y="0" font-size="8.33" fill="#000" stroke="#000" stroke-width="0.25">09:00</text></g>
<g transform="translate(393.84,497) rotate(-90)"><text x="0" y="0" font-size="8.33" fill="#000" stroke="#000" stroke-width="0.25">09:30</text></g>
<g transform="translate(410.70,497) rotate(-90)"><text x="0" y="0" font-size="8.33" fill="#000" stroke="#000" stroke-width="0.25">10:00</text></g>
<g transform="translate(427.56,497) rotate(-90)"><text x="0" y="0" font-size="8.33" fill="#000" stroke="#000" stroke-width="0.25">10:30</text></g>
<g transform="translate(444.42,497) rotate(-90)"><text x="0" y="0" font-size="8.33" fill="#000" stroke="#000" stroke-width="0.25">11:00</text></g>
<g transform="translate(461.28,497) rotate(-90)"><text x="0" y="0" font-size="8.33" fill="#000" stroke="#000" stroke-width="0.25">11:30</text></g>
<g transform="translate(478.14,497) rotate(-90)"><text x="0" y="0" font-size="8.33" fill="#000" stroke="#000" stroke-width="0.25">12:00</text></g>
<g transform="translate(495.00,497) rotate(-90)"><text x="0" y="0" font-size="8.33" fill="#000" stroke="#000" stroke-width="0.25">12:30</text></g>
<g transform="translate(511.86,497) rotate(-90)"><text x="0" y="0" font-size="8.33" fill="#000" stroke="#000" stroke-width="0.25">13:00</text></g>
<g transform="translate(528.72,497) rotate(-90)"><text x="0" y="0" font-size="8.33" fill="#000" stroke="#000" stroke-width="0.25">13:30</text></g>
<g transform="translate(545.58,497) rotate(-90)"><text x="0" y="0" font-size="8.33" fill="#000" stroke="#000" stroke-width="0.25">15:30</text></g>
<g transform="translate(562.44,497) rotate(-90)"><text x="0" y="0" font-size="8.33" fill="#000" stroke="#000" stroke-width="0.25">16:00</text></g>
<g transform="translate(579.30,497) rotate(-90)"><text x="0" y="0" font-size="8.33" fill="#000" stroke="#000" stroke-width="0.25">16:30</text></g>
<g transform="translate(596.16,497) rotate(-90)"><text x="0" y="0" font-size="8.33" fill="#000" stroke="#000" stroke-width="0.25">17:00</text></g>
<g transform="translate(613.02,497) rotate(-90)"><text x="0" y="0" font-size="8.33" fill="#000" stroke="#000" stroke-width="0.25">17:30</text></g>
<g transform="translate(629.88,497) rotate(-90)"><text x="0" y="0" font-size="8.33" fill="#000" stroke="#000" stroke-width="0.25">18:00</text></g>
<g transform="translate(646.74,497) rotate(-90)"><text x="0" y="0" font-size="8.33" fill="#000" stroke="#000" stroke-width="0.25">18:30</text></g>
<g transform="translate(663.60,497) rotate(-90)"><text x="0" y="0" font-size="8.33" fill="#000" stroke="#000" stroke-width="0.25">19:00</text></g>
<g transform="translate(680.46,497) rotate(-90)"><text x="0" y="0" font-size="8.33" fill="#000" stroke="#000" stroke-width="0.25">19:30</text></g>
<g transform="translate(697.32,497) rotate(-90)"><text x="0" y="0" font-size="8.33" fill="#000" stroke="#000" stroke-width="0.25">20:00</text></g>
<g transform="translate(714.18,497) rotate(-90)"><text x="0" y="0" font-size="8.33" fill="#000" stroke="#000" stroke-width="0.25">20:30</text></g>
<g transform="translate(731.04,497) rotate(-90)"><text x="0" y="0" font-size="8.33" fill="#000" stroke="#000" stroke-width="0.25">21:00</text></g>
<g transform="translate(747.90,497) rotate(-90)"><text x="0" y="0" font-size="8.33" fill="#000" stroke="#000" stroke-width="0.25">21:30</text></g>
<g transform="translate(764.76,497) rotate(-90)"><text x="0" y="0" font-size="8.33" fill="#000" stroke="#000" stroke-width="0.25">22:00</text></g>
<g transform="translate(781.62,497) rotate(-90)"><text x="0" y="0" font-size="8.33" fill="#000" stroke="#000" stroke-width="0.25">22:30</text></g>
<g transform="translate(798.48,497) rotate(-90)"><text x="0" y="0" font-size="8.33" fill="#000" stroke="#000" stroke-width="0.25">23:00</text></g>
<g transform="translate(815.34,497) rotate(-90)"><text x="0" y="0" font-size="8.33" fill="#000" stroke="#000" stroke-width="0.25">23:30</text></g>
<text x="833" y="478" font-size="8.33" font-weight="normal" fill="#000" stroke="#000" stroke-width="0.25" text-anchor="start" font-style="italic">čas</text>
<rect x="10" y="9" width="11" height="2" fill="#ff0000"/>
<text x="25" y="12" font-size="8.33" font-weight="normal" fill="#000" stroke="#000" stroke-width="0.25" text-anchor="start" >Teplota</text>
<rect x="70" y="9" width="11" height="2" fill="#ff00ff"/>
<text x="85" y="12" font-size="8.33" font-weight="normal" fill="#000" stroke="#000" stroke-width="0.25" text-anchor="start" >Přízemní teplota</text>
<rect x="175" y="9" width="11" height="2" fill="#8a00cc"/>
<text x="190" y="12" font-size="8.33" font-weight="normal" fill="#000" stroke="#000" stroke-width="0.25" text-anchor="start" >Vlhkost</text>
<rect x="235" y="9" width="11" height="2" fill="#339933"/>
<text x="250" y="12" font-size="8.33" font-weight="normal" fill="#000" stroke="#000" stroke-width="0.25" text-anchor="start" >Tlak</text>
<rect x="280" y="9" width="11" height="2" fill="#00b4ff"/>
<text x="295" y="12" font-size="8.33" font-weight="normal" fill="#000" stroke="#000" stroke-width="0.25" text-anchor="start" >Srážky</text>
<rect x="335" y="9" width="11" height="2" fill="#000"/>
<text x="350" y="12" font-size="8.33" font-weight="normal" fill="#000" stroke="#000" stroke-width="0.25" text-anchor="start" >Rychlost větru</text>
<rect x="430" y="9" width="11" height="2" fill="#0000dd"/>
<text x="445" y="12" font-size="8.33" font-weight="normal" fill="#000" stroke="#000" stroke-width="0.25" text-anchor="start" >Náraz větru</text>
<rect x="510" y="9" width="11" height="2" fill="#808080"/>
<text x="525" y="12" font-size="8.33" font-weight="normal" fill="#000" stroke="#000" stroke-width="0.25" text-anchor="start" >Směr větru</text>
<text x="80" y="27" font-size="8.33" font-weight="normal" fill="#000" stroke="#000" stroke-width="0.25" text-anchor="start" >max </text>
<text x="100" y="27" font-size="8.33" font-weight="normal" fill="#f00" stroke="#f00" stroke-width="0.25" text-anchor="start" >18.3°C</text>
<text x="130" y="27" font-size="8.33" font-weight="normal" fill="#000" stroke="#000" stroke-width="0.25" text-anchor="start" >  </text>
<text x="140" y="27" font-size="8.33" font-weight="normal" fill="#f00" stroke="#f00" stroke-width="0.25" text-anchor="start" >95%</text>
<text x="155" y="27" font-size="8.33" font-weight="normal" fill="#000" stroke="#000" stroke-width="0.25" text-anchor="start" >  </text>
<text x="165" y="27" font-size="8.33" font-weight="normal" fill="#f00" stroke="#f00" stroke-width="0.25" text-anchor="start" >1020hPa</text>
<text x="200" y="27" font-size="8.33" font-weight="normal" fill="#000" stroke="#000" stroke-width="0.25" text-anchor="start" >     </text>
<text x="225" y="27" font-size="8.33" font-weight="normal" fill="#00b4ff" stroke="#00b4ff" stroke-width="0.25" text-anchor="start" >2.7mm</text>
<text x="80" y="37" font-size="8.33" font-weight="normal" fill="#000" stroke="#000" stroke-width="0.25" text-anchor="start" >min </text>
<text x="100" y="37" font-size="8.33" font-weight="normal" fill="#0000cc" stroke="#0000cc" stroke-width="0.25" text-anchor="start" > 7.5°C</text>
<text x="130" y="37" font-size="8.33" font-weight="normal" fill="#000" stroke="#000" stroke-width="0.25" text-anchor="start" >  </text>
<text x="140" y="37" font-size="8.33" font-weight="normal" fill="#0000cc" stroke="#0000cc" stroke-width="0.25" text-anchor="start" >79%</text>
<text x="155" y="37" font-size="8.33" font-weight="normal" fill="#000" stroke="#000" stroke-width="0.25" text-anchor="start" >  </text>
<text x="165" y="37" font-size="8.33" font-weight="normal" fill="#0000cc" stroke="#0000cc" stroke-width="0.25" text-anchor="start" >1017.5hPa</text>
<text x="80" y="47" font-size="8.33" font-weight="normal" fill="#000" stroke="#000" stroke-width="0.25" text-anchor="start" >avg 12.6°C</text>
<text x="519" y="27" font-size="8.33" font-weight="normal" fill="#000" stroke="#000" stroke-width="0.25" text-anchor="start" >WS:2.4m/s</text>
<text x="590" y="27" font-size="8.33" font-weight="normal" fill="#000" stroke="#000" stroke-width="0.25" text-anchor="start" >WG:5.2m/s</text>
<text x="485" y="37" font-size="8.33" font-weight="normal" fill="#000" stroke="#000" stroke-width="0.25" text-anchor="start" >Slunce</text>
<text x="519" y="37" font-size="8.33" font-weight="normal" fill="#000" stroke="#000" stroke-width="0.25" text-anchor="start" >Východ:06:23</text>
<text x="590" y="37" font-size="8.33" font-weight="normal" fill="#000" stroke="#000" stroke-width="0.25" text-anchor="start" >Západ:19:48</text>
<text x="485" y="47" font-size="8.33" font-weight="normal" fill="#000" stroke="#000" stroke-width="0.25" text-anchor="start" >Měsíc</text>
<text x="519" y="47" font-size="8.33" font-weight="normal" fill="#000" stroke="#000" stroke-width="0.25" text-anchor="start" >Východ:08:17</text>
<text x="590" y="47" font-size="8.33" font-weight="normal" fill="#000" stroke="#000" stroke-width="0.25" text-anchor="start" >Západ:20:05</text>
<text x="421" y="61" font-size="11.5" font-weight="bold" fill="#000" stroke="#000" stroke-width="0" text-anchor="start" >1.9.2008</text>
<rect x="0" y="0" width="900" height="1" fill="#000"/>
<rect x="0" y="0" width="1" height="500" fill="#000"/>
<rect x="899" y="0" width="1" height="500" fill="#000"/>
<rect x="0" y="499" width="900" height="1" fill="#000"/>
</svg></body></html>
